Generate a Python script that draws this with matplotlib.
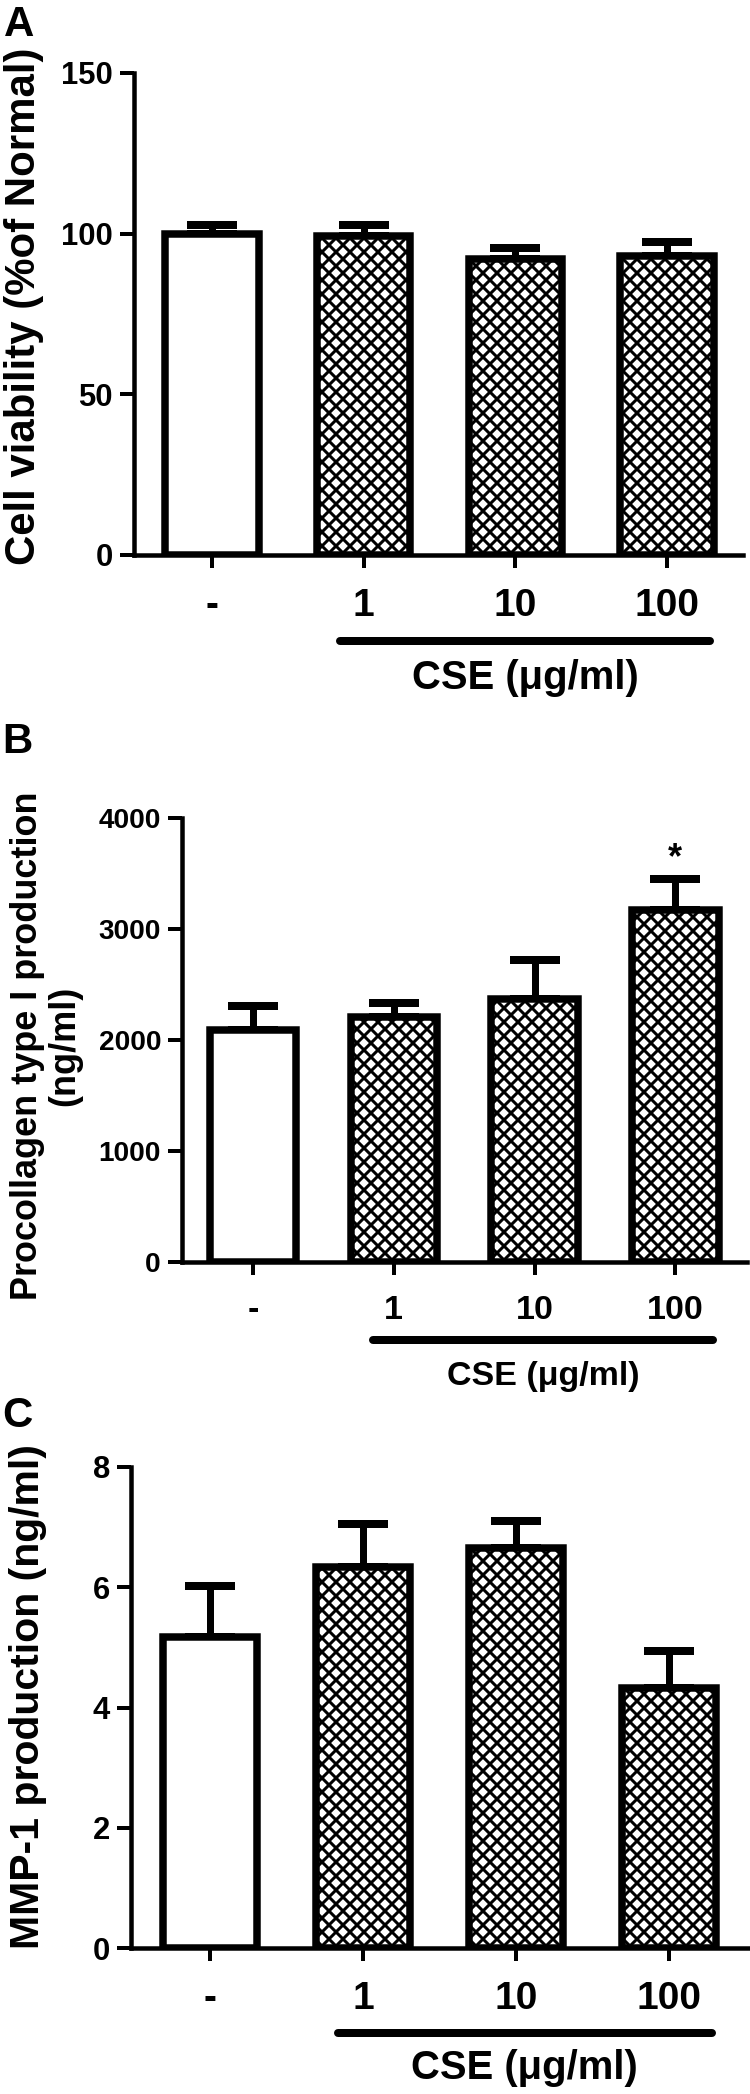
import numpy as np
import matplotlib
matplotlib.use('Agg')
import matplotlib.pyplot as plt
from matplotlib.transforms import offset_copy

DPI = 84
W, H = 750, 2094


def pt(px):
    # pixel size -> points at the figure dpi
    return px * 72.0 / DPI


# data
groups = ['-', '1', '10', '100']
viab_mean = [100.0, 99.2, 92.0, 93.0]
viab_err = [2.8, 3.5, 3.5, 4.5]
procol_mean = [2090, 2210, 2370, 3170]
procol_err = [220, 120, 350, 280]
mmp1_mean = [5.17, 6.33, 6.66, 4.32]
mmp1_err = [0.85, 0.73, 0.44, 0.62]

plt.rcParams['font.family'] = ['Liberation Sans', 'DejaVu Sans']
plt.rcParams['font.weight'] = 'bold'
plt.rcParams['hatch.linewidth'] = pt(3.0)

fig = plt.figure(figsize=(W / DPI, H / DPI), dpi=DPI)


def px_rect(l, t, r, b):
    return [l / W, 1 - b / H, (r - l) / W, (b - t) / H]


def panel(rect, mean, err, xlim, ylim, yticks, ytick_fs, xtick_fs, cse_fs,
          line_y, cse_y, line_x, star=False):
    ax = fig.add_axes(px_rect(*rect))
    x = np.arange(len(groups))
    ax.errorbar(x, mean, yerr=[np.zeros(len(err)), err], fmt='none',
                ecolor='black', elinewidth=pt(7), capsize=pt(25),
                capthick=pt(8), zorder=1)
    bars = ax.bar(x, mean, width=0.615, color='white', edgecolor='black',
                  linewidth=pt(7.5), zorder=2)
    for b in bars[1:]:
        b.set_hatch('xx')

    for s in ['top', 'right']:
        ax.spines[s].set_visible(False)
    for s in ['left', 'bottom']:
        ax.spines[s].set_linewidth(pt(4.5))

    ax.set_xticks(x)
    ax.set_xticklabels(groups)
    ax.set_yticks(yticks)
    ax.tick_params(axis='y', direction='out', length=pt(14), width=pt(4),
                   labelsize=ytick_fs, pad=pt(7))
    ax.tick_params(axis='x', direction='out', length=pt(13), width=pt(4),
                   labelsize=xtick_fs, pad=pt(20))

    # bar under the CSE groups + label
    tr_line = offset_copy(ax.get_xaxis_transform(), fig=fig, x=0, y=-line_y, units='dots')
    ax.plot(line_x, [0, 0], color='black', lw=pt(8), solid_capstyle='round',
            transform=tr_line, clip_on=False)
    tr_txt = offset_copy(ax.get_xaxis_transform(), fig=fig, x=0, y=-cse_y, units='dots')
    ax.text(np.mean(line_x), 0, 'CSE (μg/ml)', transform=tr_txt, ha='center',
            va='center', fontsize=cse_fs)

    if star:
        ax.annotate('*', xy=(3, mean[3] + err[3]), xytext=(0, 11),
                    textcoords='offset pixels', ha='center', va='baseline',
                    fontsize=pt(36))

    ax.set_xlim(*xlim)
    ax.set_ylim(*ylim)
    return ax


# A
panel((134, 73, 743, 555), viab_mean, viab_err, (-0.514, 3.50), (0, 150),
      [0, 50, 100, 150], pt(31), pt(39), pt(40), 86, 123, (0.844, 3.283))
fig.text(24 / W, 1 - 306 / H, 'Cell viability (%of Normal)', rotation=90,
         ha='center', va='center', fontsize=pt(42))
fig.text(19 / W, 1 - 25 / H, 'A', ha='center', va='center', fontsize=pt(42))

# B
panel((182, 818, 747, 1262), procol_mean, procol_err, (-0.505, 3.51), (0, 4000),
      [0, 1000, 2000, 3000, 4000], pt(28), pt(34), pt(34), 78, 115,
      (0.853, 3.27), star=True)
fig.text(46 / W, 1 - 1046 / H, 'Procollagen type I production\n(ng/ml)',
         rotation=90, ha='center', va='center', multialignment='center',
         linespacing=1.1, fontsize=pt(36))
fig.text(17 / W, 1 - 742 / H, 'B', ha='center', va='center', fontsize=pt(42))

# C
panel((131, 1467, 750, 1948), mmp1_mean, mmp1_err, (-0.516, 3.53), (0, 8),
      [0, 2, 4, 6, 8], pt(31), pt(39), pt(40), 85, 120, (0.837, 3.28))
fig.text(28 / W, 1 - 1697 / H, 'MMP-1 production (ng/ml)', rotation=90,
         ha='center', va='center', fontsize=pt(41))
fig.text(17 / W, 1 - 1416 / H, 'C', ha='center', va='center', fontsize=pt(42))

fig.savefig('out.png', dpi=DPI)
